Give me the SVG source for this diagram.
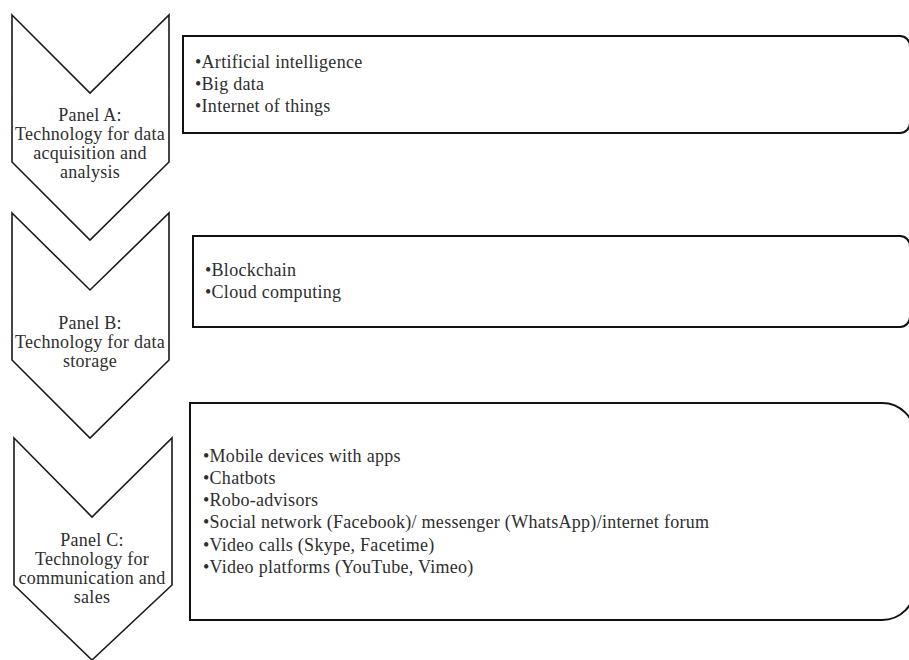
<svg xmlns="http://www.w3.org/2000/svg" width="909" height="660" viewBox="0 0 909 660">
<style>
.chev{fill:#fff;stroke:#1a1a1a;stroke-width:1.6;stroke-linejoin:miter}
.box{fill:#fff;stroke:#111;stroke-width:2}
text{font-family:'Liberation Serif','Times New Roman','DejaVu Serif',serif;font-size:18px;letter-spacing:0.28px;fill:#2e2e2e}
.lbl{text-anchor:middle}
</style>
<rect width="909" height="660" fill="#fff"/>
<g id="panelA">
<path class="chev" d="M12,15 L90,93 L169,15 L169,162 L90,240 L12,162 Z"/>
<text class="lbl" x="90" y="121">Panel A:</text>
<text class="lbl" x="90" y="140">Technology for data</text>
<text class="lbl" x="90" y="159">acquisition and</text>
<text class="lbl" x="90" y="178">analysis</text>
</g>
<g id="panelB">
<path class="chev" d="M12,213 L90,290 L169,213 L169,360 L90,438 L12,360 Z"/>
<text class="lbl" x="90" y="329">Panel B:</text>
<text class="lbl" x="90" y="348">Technology for data</text>
<text class="lbl" x="90" y="367">storage</text>
</g>
<g id="panelC">
<path class="chev" d="M14,438 L92,517 L172,438 L172,585 L92,660 L14,585 Z"/>
<text class="lbl" x="92" y="546">Panel C:</text>
<text class="lbl" x="92" y="565">Technology for</text>
<text class="lbl" x="92" y="584">communication and</text>
<text class="lbl" x="92" y="603">sales</text>
</g>
<g id="boxA">
<path class="box" d="M183,36 H900 A10,10 0 0 1 910,46 V123 A10,10 0 0 1 900,133 H183 Z"/>
<text x="195" y="68">•Artificial intelligence</text>
<text x="195" y="90">•Big data</text>
<text x="195" y="112">•Internet of things</text>
</g>
<g id="boxB">
<path class="box" d="M193,236 H900 A10,10 0 0 1 910,246 V317 A10,10 0 0 1 900,327 H193 Z"/>
<text x="205" y="276">•Blockchain</text>
<text x="205" y="298">•Cloud computing</text>
</g>
<g id="boxC">
<path class="box" d="M190,403 H882 A33,33 0 0 1 915,436 V587 A33,33 0 0 1 882,620 H190 Z"/>
<text x="203" y="462">•Mobile devices with apps</text>
<text x="203" y="484">•Chatbots</text>
<text x="203" y="506">•Robo-advisors</text>
<text x="203" y="528">•Social network (Facebook)/ messenger (WhatsApp)/internet forum</text>
<text x="203" y="551">•Video calls (Skype, Facetime)</text>
<text x="203" y="573">•Video platforms (YouTube, Vimeo)</text>
</g>
<g id="connectors"/>
</svg>
